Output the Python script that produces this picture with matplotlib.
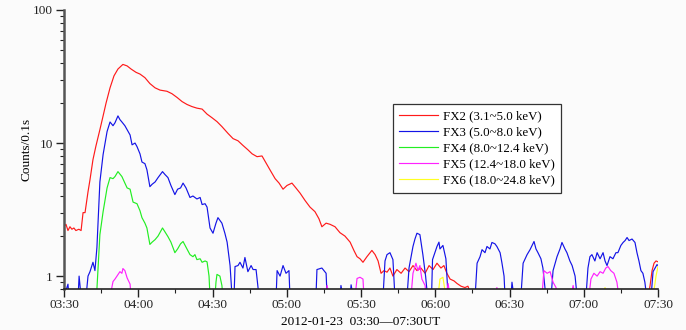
import matplotlib
matplotlib.use("Agg")
import matplotlib.pyplot as plt
from matplotlib.ticker import FixedLocator, FuncFormatter, LogLocator, NullFormatter

# minutes after 03:30 UT, counts per 0.1 s (0.7 = below plotted floor)
fx2_t = [0, 0.8, 1.6, 2.4, 3.2, 4, 4.8, 6, 6.9, 7.7, 8.5, 9.7, 10.5, 11.7, 12.9, 14.5, 15.8, 17, 18.6, 20.2,
         21.8, 23.8, 25.5, 27.1, 29.1, 30.7, 32.7, 34.7, 36.8, 38.8, 41.6, 43.6, 45.7, 47.7, 49.7, 51.7, 53.7,
         55.8, 57.8, 59.8, 61.8, 63.8, 66.3, 68.3, 70.3, 72.3, 74.3, 76, 78, 80, 81.6, 83.2, 85.3, 86.9, 88.5,
         90.1, 92.1, 93.7, 95.4, 97.4, 99.4, 101.4, 103, 104.2, 105.9, 107.5, 109.5, 111.5, 113.5, 115.6, 117.2,
         118.4, 119.6, 120.8, 122.4, 124.4, 125.7, 126.9, 128.1, 129.3, 130.5, 131.7, 132.9, 134.5, 136.2, 137.8,
         139.4, 141, 142.6, 144.2, 145.9, 147.5, 149.1, 150.7, 152.3, 153.5, 154.7, 156, 157.6, 158.8, 160.4,
         162, 163.2, 164.8, 236, 236.8, 237.6, 238.4, 239.2, 240]
fx2_v = [2.36, 2.45, 2.2, 2.35, 2.25, 2.3, 2.2, 2.25, 2.2, 3.0, 3.0, 4.3, 5.3, 7.5, 9.5, 12.6, 16, 20, 26, 32,
         36, 39, 38, 36, 34, 33, 31, 28, 26, 25, 24.5, 23.5, 22, 20.5, 19.5, 18.8, 18.3,
         18.0, 16.5, 15.5, 14.5, 13.3, 11.8, 10.8, 10.4, 9.6, 8.9, 8.3, 7.9, 8.0, 7.1, 6.3, 5.4, 5.0, 4.5,
         4.8, 5.0, 4.6, 4.2, 3.7, 3.3, 3.05, 2.7, 2.35, 2.5, 2.45, 2.35, 2.12, 2.0, 1.8, 1.55,
         1.4, 1.35, 1.27, 1.4, 1.56, 1.45, 1.3, 1.05, 1.1, 1.07, 1.15, 1.0, 1.12, 1.05, 1.15,
         1.08, 1.2, 1.1, 1.15, 1.05, 1.2, 1.12, 1.25, 1.15, 1.2, 1.05, 0.95, 0.92, 0.88, 0.84,
         0.82, 0.84, 0.7, 0.7, 0.85, 1.1, 1.25, 1.3, 1.28]

fx3_t = [0, 1.6, 2, 5.7, 6.1, 6.9, 8.9, 9.7, 10.5, 11.7, 12.5, 13.3, 14.5, 15.8, 17.4, 18.6, 19.8, 20.6, 21.8,
         22.6, 23.4, 24.6, 25.5, 26.7, 27.5, 28.7, 29.5, 30.7, 31.5, 32.7, 33.5, 34.7, 35.6, 36.8, 38, 39.8,
         40.8, 42, 43.2, 44.8, 45.9, 47.1, 48.1, 49.3, 50.9, 52.1, 53.7, 55, 55.8, 57, 57.8, 59, 60.2, 61.4,
         62.2, 63.8, 65, 65.9, 67.1, 67.9, 68.7, 69.1, 70.3, 71.1, 72.3, 73.1, 74.3, 75.6, 76.4, 77.6, 78.8,
         85.7, 86.1, 87.3, 88.5, 89.7, 90.9, 91.3, 101.8, 102.2, 104.2, 105.9, 106.3, 111.5, 111.9, 112.7,
         115.6, 116, 116.8, 128.9, 129.7, 130.5, 131.7, 132.9, 133.7, 138.6, 139.4, 141, 141.8, 142.6, 143.8,
         145, 146.1, 146.9, 148.5, 148.9, 150.7, 151.5, 151.9, 153.1, 154.3, 155.2, 166.1, 166.9, 168.1,
         168.9, 170.1, 170.9, 172.1, 172.9, 174.1, 174.9, 176.2, 176.9, 177.8, 178.2, 180.6, 181, 181.8,
         184.6, 185.5, 187.1, 188.3, 189.9, 190.7, 191.5, 192.7, 193.5, 194.7, 196.8, 197.6, 199.2, 200.4,
         201.2, 202.4, 203.2, 204.4, 205.3, 206.5, 207.3, 210.9, 211.7, 212.5, 213.3, 214.5, 215.4, 216.6,
         217.8, 218.6, 219.4, 220.6, 221.8, 223, 223.8, 225, 225.9, 226.7, 227.5, 228.3, 229.5, 230.7,
         231.5, 232.3, 233.1, 233.9, 234.7, 235.4, 237.2, 238, 238.8, 239.6, 240]
fx3_v = [0.7, 0.87, 0.7, 0.7, 1.0, 0.7, 0.7, 1.0, 1.08, 1.27, 1.1, 1.64, 5.1, 8.2, 12.2, 14.4, 13.5, 14.2, 16,
         15, 14.4, 13.5, 12.6, 11.5, 9.7, 10, 9.4, 8.3, 7.2, 7.0, 6.3, 4.7, 4.9, 5.1, 5.5, 6.1,
         5.8, 5.5, 4.8, 4.1, 4.5, 4.6, 5.0, 4.6, 3.9, 4.0, 3.8, 3.9, 3.45, 3.5, 3.3, 2.3, 2.1, 2.5,
         2.75, 2.5, 2.1, 1.8, 1.2, 0.7, 0.7, 1.18, 1.2, 1.27, 1.15, 1.38, 1.08, 1.2, 1.12, 1.12, 0.7,
         0.7, 1.1, 1.0, 1.2, 1.05, 1.1, 0.7, 0.7, 1.12, 1.15, 1.05, 0.7, 0.7, 0.85, 0.7,
         0.7, 0.86, 0.7, 0.7, 1.3, 1.45, 1.5, 1.33, 0.7, 0.7, 1.15, 1.67, 1.9, 2.1, 2.05,
         1.45, 1.0, 0.7, 0.7, 1.33, 1.67, 1.8, 1.6, 1.7, 1.35, 0.7, 0.7, 1.25, 1.4,
         1.58, 1.5, 1.67, 1.6, 1.79, 1.75, 1.67, 1.5, 1.27, 1.0, 0.7, 0.7, 0.9, 0.7,
         0.7, 1.25, 1.45, 1.58, 1.82, 1.6, 1.5, 1.35, 1.15, 0.7, 0.7, 1.1, 1.4, 1.6,
         1.79, 1.6, 1.5, 1.3, 1.2, 1.0, 0.7, 0.7, 1.15, 1.4, 1.45, 1.3, 1.5, 1.35,
         1.5, 1.3, 1.2, 1.4, 1.35, 1.5, 1.5, 1.7, 1.79, 1.85, 1.95, 1.85, 1.9, 1.79,
         1.5, 1.3, 1.1, 1.05, 0.9, 0.7, 0.7, 1.08, 1.15, 1.22, 1.2]

fx4_t = [12.5, 13.3, 14.5, 15.8, 17.4, 18.6, 19.8, 20.6, 21.8, 23.4, 24.6, 25.5, 26.7, 27.9, 29.5, 30.7, 31.5,
         32.7, 33.5, 34.7, 35.6, 36.8, 38, 39.8, 40.8, 42, 43.2, 44.8, 45.9, 47.1, 48.1, 49.3, 50.9, 52.1,
         52.9, 53.7, 55, 55.8, 57, 57.8, 58.6, 59, 61, 61.4, 61.8, 63, 63.8, 64.2, 154.6, 155, 155.6]
fx4_v = [0.7, 0.8, 2.05, 3.05, 4.6, 5.5, 5.4, 5.6, 6.1, 5.6, 5.0, 4.6, 4.5, 3.6, 3.5, 3.1, 2.75,
         2.5, 2.3, 1.73, 1.8, 1.88, 2.0, 2.3, 2.15, 1.98, 1.8, 1.5, 1.6, 1.75, 1.82, 1.65, 1.45, 1.4,
         1.45, 1.33, 1.35, 1.27, 1.3, 1.28, 1.0, 0.7, 0.7, 0.9, 1.03, 1.0, 0.85, 0.7, 0.7, 0.82, 0.7]

fx5_t = [18.6, 19.8, 20.6, 21.4, 22.6, 23.4, 23.8, 24.6, 25.5, 26.7, 27.1, 105.9, 106.3, 107.1, 117.6, 118.4,
         119.6, 120.8, 121.2, 140.2, 141, 142.2, 143, 143.8, 144.6, 145.9, 146.3, 154.3, 155.2, 156, 174.5,
         174.9, 175.4, 193.1, 193.9, 195.2, 196.4, 197.6, 198.8, 199.2, 204.8, 205.7, 206.5, 212.1, 212.9,
         214.1, 215.4, 216.6, 217.8, 218.9, 219.8, 220.9, 222.2, 223.4, 224.2]
fx5_v = [0.7, 0.91, 0.95, 1.0, 1.08, 1.05, 1.14, 1.1, 0.97, 0.87, 0.7, 0.7, 0.85, 0.7, 0.7, 0.96,
         0.98, 0.95, 0.7, 0.7, 1.05, 1.25, 1.1, 1.2, 0.95, 0.85, 0.7, 0.7, 0.88, 0.7, 0.7,
         0.82, 0.7, 0.7, 1.1, 1.05, 1.08, 0.9, 0.82, 0.7, 0.7, 0.85, 0.7, 0.7, 0.95,
         1.05, 1.0, 1.08, 1.05, 1.15, 1.18, 1.1, 1.05, 0.9, 0.7]

fx6_t = [151.1, 151.9, 153.1, 154.3, 217.8, 218.6, 219, 238, 239.2, 240]
fx6_v = [0.7, 0.95, 0.98, 0.7, 0.7, 0.82, 0.7, 0.7, 1.0, 1.18]

series = [
    ("FX2 (3.1~5.0 keV)", "#ff1a1a", fx2_t, fx2_v),
    ("FX3 (5.0~8.0 keV)", "#1414e6", fx3_t, fx3_v),
    ("FX4 (8.0~12.4 keV)", "#22ee22", fx4_t, fx4_v),
    ("FX5 (12.4~18.0 keV)", "#ff22ff", fx5_t, fx5_v),
    ("FX6 (18.0~24.8 keV)", "#ffff22", fx6_t, fx6_v),
]
tick_minutes = [0, 30, 60, 90, 120, 150, 180, 210, 240]
tick_labels = ["03:30", "04:00", "04:30", "05:00", "05:30", "06:00", "06:30", "07:00", "07:30"]

plt.rcParams['font.family'] = ['Liberation Serif', 'DejaVu Serif']

fig = plt.figure(figsize=(6.86, 3.30), dpi=100, facecolor='#fbfbfb')
ax = fig.add_axes([64/686, 1-289/330, (658-64)/686, (289-10)/330])
ax.set_facecolor('#fbfbfb')

for label, color, t, v in series:
    ax.plot(t, v, color=color, lw=0.85, label=label)

ax.set_yscale('log')
ax.set_ylim(0.8, 100)
ax.set_xlim(0, 240)
ax.xaxis.set_major_locator(FixedLocator(tick_minutes))
ax.xaxis.set_major_formatter(FuncFormatter(lambda x, p: tick_labels[tick_minutes.index(int(round(x)))] if int(round(x)) in tick_minutes else ""))
ax.xaxis.set_minor_locator(FixedLocator([15, 45, 75, 105, 135, 165, 195, 225]))
ax.yaxis.set_major_locator(LogLocator(base=10, numticks=10))
ax.yaxis.set_major_formatter(FuncFormatter(lambda y, p: f"{y:g}"))
ax.yaxis.set_minor_locator(LogLocator(base=10, subs=range(2, 10), numticks=10))
ax.yaxis.set_minor_formatter(NullFormatter())

for s in ['top', 'right']:
    ax.spines[s].set_visible(False)
ax.spines['left'].set_color('#555555')
ax.spines['left'].set_linewidth(1.8)
ax.spines['bottom'].set_color('#222222')
ax.spines['bottom'].set_linewidth(1.2)
ax.tick_params(axis='both', which='major', direction='out', length=6, width=1, labelsize=9.5, colors='#222222')
ax.tick_params(axis='x', which='major', pad=1.5)
ax.tick_params(axis='y', which='major', pad=2)
ax.tick_params(axis='both', which='minor', direction='out', length=3, width=0.8, colors='#222222')

ax.set_ylabel("Counts/0.1s", fontsize=9.5, labelpad=0.5)
ax.set_xlabel("2012-01-23  03:30\u201407:30UT", fontsize=9.5, labelpad=3)

leg = ax.legend(loc='upper left', bbox_to_anchor=((393-64)/594, 1-(104-10)/279), fontsize=9.3,
                frameon=True, fancybox=False, edgecolor='#333333', framealpha=1,
                handlelength=3.0, handletextpad=0.35, labelspacing=0.3, borderpad=0.5,
                borderaxespad=0)
leg.get_frame().set_linewidth(0.9)

fig.savefig("out.png", dpi=100, facecolor=fig.get_facecolor())
